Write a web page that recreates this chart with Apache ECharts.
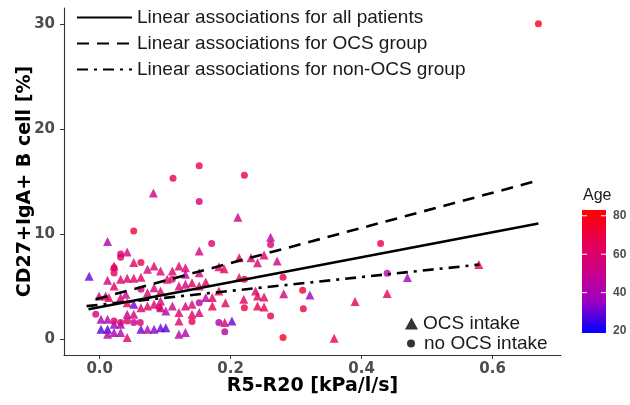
<!DOCTYPE html>
<html><head><meta charset="utf-8">
<script src="https://cdn.jsdelivr.net/npm/echarts@6/dist/echarts.min.js"></script>
<style>html,body{margin:0;padding:0;background:#fff}#c{width:630px;height:405px}</style>
</head><body><div id="c"></div>
<script>
// ---- data ----
const xTicks = [0, 0.2, 0.4, 0.6];
const yTicks = [0, 10, 20, 30];
const ageTicks = [20, 40, 60, 80];
const ageRange = [19, 83];
const ageColors = ['#0000FF', '#9A00C3', '#CA0089', '#E8004F', '#FF0000'];
const lineNames = ['Linear associations for all patients', 'Linear associations for OCS group', 'Linear associations for non-OCS group'];
const shapeNames = ['OCS intake', 'no OCS intake'];
// [R5-R20, CD27+IgA+ B cell %, age]
const ocsPoints = [
  [-0.016,6.0,30],[0.012,9.3,42],[0.042,8.3,55],[0.082,13.9,50],[0.211,11.6,50],[0.261,9.7,45],
  [0.152,8.4,55],[0.052,7.3,62],[0.022,6.96,60],[0.012,5.6,50],[0.032,5.7,62],[0.042,5.8,58],
  [0.052,5.8,65],[0.063,5.9,60],[0.073,6.65,55],[0.083,6.96,62],[0.093,6.5,58],[0.022,5.07,62],
  [-0.001,4.1,60],[0.009,4.1,55],[0.014,3.96,65],[0.04,4.27,50],[0.073,4.43,60],[0.083,4.9,55],
  [0.093,4.59,65],[0.052,3.32,30],[0.032,3.96,60],[0.042,3.48,65],[0.063,3.0,55],[0.073,3.17,62],
  [0.083,3.32,58],[0.093,3.0,60],[0.002,1.9,40],[0.012,1.9,42],[0.002,0.95,28],[0.012,0.95,25],
  [0.022,1.42,35],[0.032,1.42,40],[0.032,0.63,42],[0.022,0.63,38],[0.012,0.47,45],[0.063,0.95,30],
  [0.073,0.95,45],[0.083,0.95,32],[0.042,0.16,62],[0.052,2.37,55],[0.042,2.37,48],[0.093,1.1,30],
  [0.121,6.96,62],[0.131,6.8,60],[0.111,6.49,58],[0.131,6.17,45],[0.152,6.33,55],[0.103,5.7,60],
  [0.131,5.22,55],[0.141,5.38,65],[0.152,5.07,62],[0.121,5.07,58],[0.162,3.96,45],[0.172,3.96,60],
  [0.192,3.48,62],[0.182,4.59,65],[0.172,3.17,68],[0.213,7.76,65],[0.213,5.86,62],[0.22,3.8,65],
  [0.141,3.32,60],[0.131,3.17,55],[0.141,2.37,62],[0.152,2.53,58],[0.121,2.53,60],[0.111,3.17,55],
  [0.101,2.69,42],[0.093,3.64,58],[0.121,1.74,62],[0.101,1.1,28],[0.121,0.47,45],[0.131,0.63,42],
  [0.191,1.58,62],[0.202,1.74,30],[0.231,7.76,60],[0.241,7.28,58],[0.251,8.0,62],[0.271,7.44,52],
  [0.238,4.59,60],[0.241,4.11,65],[0.251,4.02,60],[0.241,3.17,68],[0.251,3.07,65],[0.281,4.33,55],
  [0.321,4.2,35],[0.182,6.9,62],[0.19,6.7,65],[0.358,0.1,70],[0.579,7.1,70],[0.47,5.86,40],
  [0.439,4.34,68],[0.39,3.58,70],[0.162,5.45,60]
];
const nonOcsPoints = [
  [0.67,30.0,78],[0.152,16.5,68],[0.112,15.3,68],[0.221,15.6,70],[0.152,13.1,55],[0.052,10.3,72],
  [0.261,9.0,60],[0.171,9.1,62],[0.032,8.1,62],[0.032,7.8,60],[0.063,7.3,68],[0.022,6.8,65],
  [0.022,6.3,62],[0.111,5.7,60],[0.063,4.75,55],[-0.006,2.37,55],[0.022,1.74,60],[0.032,1.58,58],
  [0.052,1.58,48],[0.042,1.74,62],[0.091,3.0,60],[0.152,3.48,45],[0.182,1.58,42],[0.191,0.7,45],
  [0.221,3.0,70],[0.221,5.7,68],[0.28,5.9,68],[0.31,4.65,72],[0.311,2.9,72],[0.261,2.2,65],
  [0.28,0.16,78],[0.429,9.1,70],[0.439,6.27,45],[0.141,1.68,65],[0.062,1.58,60]
];
const lineAll = [[-0.017,2.85],[0.67,11.0]];
const lineOcs = [[-0.006,3.8],[0.67,15.1]];
const lineNonOcs = [[-0.02,3.15],[0.58,7.1]];

// ---- chart ----
const chart = echarts.init(document.getElementById('c'), null, {renderer: 'canvas'});
const tickFont = {fontFamily: 'DejaVu Sans', fontWeight: 'bold', fontSize: 15, color: '#4d4d4d'};
const titleFont = {fontFamily: 'DejaVu Sans', fontWeight: 'bold', fontSize: 19, color: '#000'};
const legendFont = {fontFamily: 'Liberation Sans', fontSize: 19, color: '#1a1a1a', lineHeight: 18};

// colour bar
const barX = 582, barY = 210, barW = 24, barH = 123;
const ageToY = a => barY + (ageRange[1] - a) / (ageRange[1] - ageRange[0]) * barH;
const graphics = [{
  type: 'rect', shape: {x: barX, y: barY, width: barW, height: barH},
  style: {fill: new echarts.graphic.LinearGradient(0, 0, 0, 1,
    ageColors.slice().reverse().map((c, i, arr) => ({offset: i / (arr.length - 1), color: c})))}
}, {
  type: 'text', x: barX + 1, y: 196,
  style: {text: 'Age', font: '16px "Liberation Sans"', fill: '#1a1a1a', verticalAlign: 'middle'}
}];
ageTicks.forEach(a => {
  const y = ageToY(a);
  graphics.push({type: 'text', x: 613, y: y,
    style: {text: String(a), font: 'bold 12px "Liberation Sans"', fill: '#4d4d4d', verticalAlign: 'middle'}});
  if (a > ageRange[0] + 2 && a < ageRange[1] - 2) {
    graphics.push({type: 'line', shape: {x1: barX, y1: y, x2: barX + 5, y2: y}, style: {stroke: '#fff', lineWidth: 1}});
    graphics.push({type: 'line', shape: {x1: barX + barW - 5, y1: y, x2: barX + barW, y2: y}, style: {stroke: '#fff', lineWidth: 1}});
  }
});

const option = {
  backgroundColor: '#fff',
  animation: false,
  grid: {left: 64, right: 69, top: 8, bottom: 50},
  xAxis: {
    type: 'value', min: -0.0545, max: 0.7045,
    splitLine: {show: false},
    axisLine: {show: true, onZero: false, lineStyle: {color: '#333', width: 1.1}},
    axisTick: {show: true, customValues: xTicks, length: 4, lineStyle: {color: '#333'}},
    axisLabel: Object.assign({customValues: xTicks, margin: 7, formatter: v => Number(v).toFixed(1)}, tickFont),
    name: 'R5-R20 [kPa/l/s]', nameLocation: 'middle', nameGap: 22, nameMoveOverlap: false, nameTextStyle: titleFont
  },
  yAxis: {
    type: 'value', min: -1.5, max: 31.5,
    splitLine: {show: false},
    axisLine: {show: true, onZero: false, lineStyle: {color: '#333', width: 1.1}},
    axisTick: {show: true, customValues: yTicks, length: 4, lineStyle: {color: '#333'}},
    axisLabel: Object.assign({customValues: yTicks, margin: 9}, tickFont),
    name: 'CD27+IgA+ B cell [%]', nameLocation: 'middle', nameGap: 29, nameMoveOverlap: false, nameTextStyle: titleFont
  },
  visualMap: {
    type: 'continuous', show: false, min: ageRange[0], max: ageRange[1], dimension: 2,
    seriesIndex: [0, 1], inRange: {color: ageColors}
  },
  legend: [{
    data: lineNames, orient: 'vertical', left: 71, top: 3,
    itemWidth: 55, itemHeight: 16, itemGap: 7, textStyle: legendFont, selectedMode: false,
    itemStyle: {opacity: 0}
  }, {
    data: [{name: shapeNames[0], icon: 'triangle', itemStyle: {color: '#000'}}],
    left: 400, top: 309, itemWidth: 13, itemHeight: 12, textStyle: legendFont, selectedMode: false
  }, {
    data: [{name: shapeNames[1], icon: 'circle', itemStyle: {color: '#000'}}],
    left: 402, top: 329, itemWidth: 8, itemHeight: 8, textStyle: Object.assign({padding: [0, 0, 0, 4]}, legendFont), selectedMode: false
  }],
  graphic: graphics,
  series: [
    {name: shapeNames[0], type: 'scatter', symbol: 'triangle', symbolSize: 9, data: ocsPoints, z: 2},
    {name: shapeNames[1], type: 'scatter', symbol: 'circle', symbolSize: 7, data: nonOcsPoints, z: 2},
    {name: lineNames[0], type: 'line', data: lineAll, symbol: 'none', z: 5,
      lineStyle: {color: '#000', width: 2.6, type: 'solid'}, itemStyle: {color: '#000'}},
    {name: lineNames[1], type: 'line', data: lineOcs, symbol: 'none', z: 5,
      lineStyle: {color: '#000', width: 2.6, type: [12, 8]}, itemStyle: {color: '#000'}},
    {name: lineNames[2], type: 'line', data: lineNonOcs, symbol: 'none', z: 5,
      lineStyle: {color: '#000', width: 2.6, type: [11, 6, 3, 6]}, itemStyle: {color: '#000'}}
  ]
};
chart.setOption(option);
</script>
</body></html>
